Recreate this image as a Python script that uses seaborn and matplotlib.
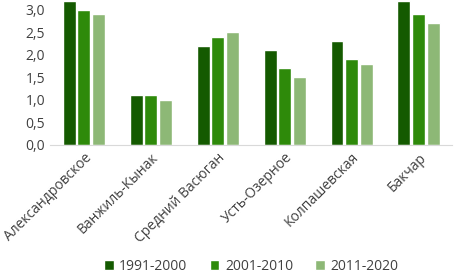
import matplotlib.pyplot as plt
import seaborn as sns
import pandas as pd
from matplotlib.ticker import FuncFormatter

stations = ["Александровское", "Ванжиль-Кынак", "Средний Васюган",
            "Усть-Озерное", "Колпашевская", "Бакчар"]
periods = ["1991-2000", "2001-2010", "2011-2020"]
v1991 = [3.2, 1.1, 2.2, 2.1, 2.3, 3.2]
v2001 = [3.0, 1.1, 2.4, 1.7, 1.9, 2.9]
v2011 = [2.9, 1.0, 2.5, 1.5, 1.8, 2.7]

df = pd.DataFrame({
    "station": stations * 3,
    "period": [periods[0]] * 6 + [periods[1]] * 6 + [periods[2]] * 6,
    "value": v1991 + v2001 + v2011,
})

sns.set_style("white")
plt.rcParams["font.family"] = ["Open Sans", "DejaVu Sans"]

fig, ax = plt.subplots(figsize=(4.59, 2.78), dpi=100)
colors = ["#145a00", "#2e8a0a", "#8db876"]
sns.barplot(data=df, x="station", y="value", hue="period", palette=colors,
            width=0.66, gap=0.12, ax=ax, saturation=1)

ax.set_ylim(0, 3.22)
ax.set_yticks([0, 0.5, 1.0, 1.5, 2.0, 2.5, 3.0])
ax.yaxis.set_major_formatter(FuncFormatter(lambda v, p: f"{v:.1f}".replace(".", ",")))
ax.set_xlabel("")
ax.set_ylabel("")
for s in ["top", "right", "left"]:
    ax.spines[s].set_visible(False)
ax.spines["bottom"].set_color("#d9d9d9")
ax.tick_params(axis="both", length=0, labelsize=10, colors="#404040", pad=4)
plt.setp(ax.get_xticklabels(), rotation=45, ha="right", rotation_mode="anchor")

ax.legend(loc="lower center", bbox_to_anchor=(0.5, -0.98), ncol=3, frameon=False,
          fontsize=10, handlelength=0.7, handleheight=0.7, handletextpad=0.4,
          columnspacing=1.6, labelcolor="#404040")

fig.subplots_adjust(left=0.11, right=0.985, top=1.0, bottom=0.48)
fig.savefig("out.png", dpi=100)
